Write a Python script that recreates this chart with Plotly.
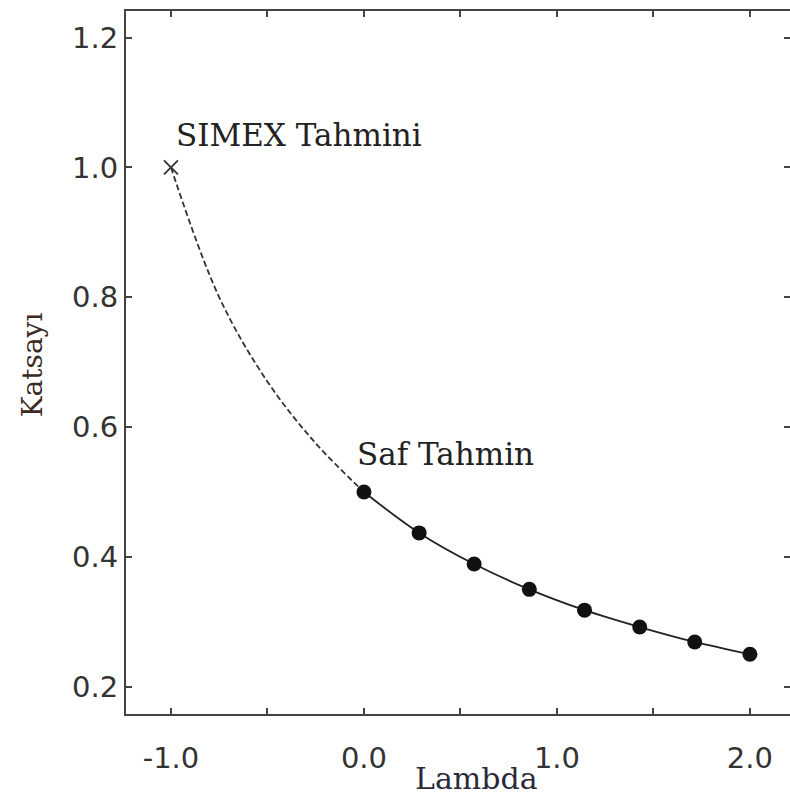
import plotly.graph_objects as go

# Data
lambda_pts = [0.0, 0.286, 0.571, 0.857, 1.143, 1.429, 1.714, 2.0]
coef_pts = [0.50, 0.437, 0.389, 0.350, 0.318, 0.292, 0.269, 0.250]

extrap_lambda = [-1.0, -0.75, -0.5, -0.25, 0.0]
extrap_coef = [1.00, 0.80, 0.67, 0.575, 0.50]

simex_lambda = [-1.0]
simex_coef = [1.0]

x_tickvals = [-1.0, -0.5, 0.0, 0.5, 1.0, 1.5, 2.0]
x_ticktext = ["-1.0", "", "0.0", "", "1.0", "", "2.0"]
y_tickvals = [0.2, 0.4, 0.6, 0.8, 1.0, 1.2]
y_ticktext = ["0.2", "0.4", "0.6", "0.8", "1.0", "1.2"]

x_range = [-1.233, 2.218]
y_range = [0.158, 1.241]

axis_col = "#444444"
tick_font = dict(family="DejaVu Sans", size=29, color="#333333")
serif = "DejaVu Serif"

fig = go.Figure()

fig.add_trace(go.Scatter(
    x=extrap_lambda, y=extrap_coef, mode="lines",
    line=dict(color="#333333", width=1.8, dash="6px,3px", shape="spline", smoothing=1.0),
    showlegend=False, hoverinfo="skip"))

fig.add_trace(go.Scatter(
    x=lambda_pts, y=coef_pts, mode="lines+markers",
    line=dict(color="#222222", width=1.8, shape="spline", smoothing=1.0),
    marker=dict(symbol="circle", size=15, color="#111111"),
    showlegend=False))

fig.add_trace(go.Scatter(
    x=simex_lambda, y=simex_coef, mode="markers",
    marker=dict(symbol="x-thin", size=14, line=dict(color="#333333", width=1.8)),
    showlegend=False))

# invisible trace for the right-hand tick axis
fig.add_trace(go.Scatter(x=[x_range[0]], y=[y_range[0]], yaxis="y2", mode="markers",
                         marker=dict(opacity=0), showlegend=False, hoverinfo="skip"))

fig.update_layout(
    width=794, height=797,
    margin=dict(l=126, r=2, t=11, b=83),
    paper_bgcolor="white", plot_bgcolor="white",
    xaxis=dict(range=x_range, tickvals=x_tickvals, ticktext=x_ticktext,
               ticks="inside", ticklen=6, tickwidth=1.5, tickcolor=axis_col,
               showline=True, linewidth=2, linecolor=axis_col, mirror="ticks",
               showgrid=False, zeroline=False, tickfont=tick_font,
               ticklabelstandoff=17),
    yaxis=dict(range=y_range, tickvals=y_tickvals, ticktext=y_ticktext,
               ticks="inside", ticklen=6, tickwidth=1.5, tickcolor=axis_col,
               showline=True, linewidth=2, linecolor=axis_col,
               showgrid=False, zeroline=False, tickfont=tick_font,
               ticklabelstandoff=0),
    yaxis2=dict(range=y_range, tickvals=y_tickvals, overlaying="y", side="right",
                ticks="inside", ticklen=8, tickwidth=2, tickcolor=axis_col,
                showline=False, showticklabels=False, showgrid=False, zeroline=False),
    annotations=[
        dict(text="SIMEX Tahmini", x=-0.985, y=1.05, xref="x", yref="y",
             xanchor="left", yanchor="middle", showarrow=False,
             font=dict(family=serif, size=31, color="#222222")),
        dict(text="Saf Tahmin", x=-0.045, y=0.558, xref="x", yref="y",
             xanchor="left", yanchor="middle", showarrow=False,
             font=dict(family=serif, size=31, color="#222222")),
        dict(text="Lambda", x=0.527, y=0.0, xref="paper", yref="paper",
             xanchor="center", yanchor="bottom", yshift=-83, borderpad=0,
             showarrow=False,
             font=dict(family=serif, size=30, color="#2a2a3a")),
        dict(text="Katsayı", x=-0.1411, y=0.496, xref="paper", yref="paper",
             xanchor="center", yanchor="middle", showarrow=False, textangle=-90,
             font=dict(family=serif, size=28, color="#3a2a22")),
    ],
)

fig.write_html(
    "out.html",
    config={"displayModeBar": False},
    post_script="document.body.style.margin='0';document.body.style.overflow='hidden';",
)
